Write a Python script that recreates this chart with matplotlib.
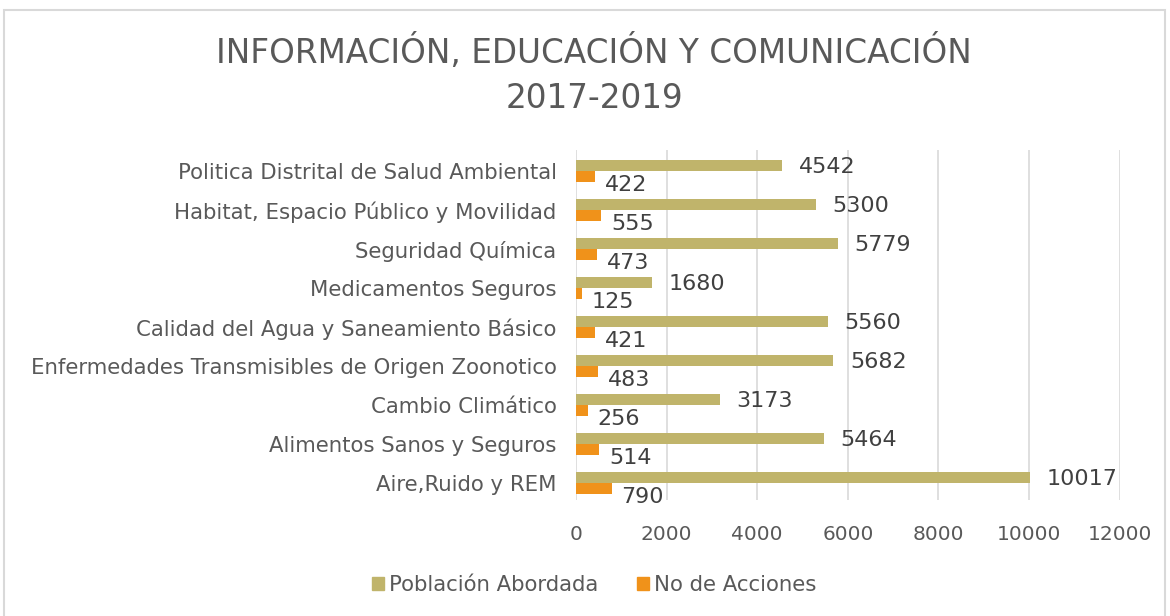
import numpy as np
import matplotlib.pyplot as plt
from matplotlib.patches import Rectangle

categorias = ['Politica Distrital de Salud Ambiental',
              'Habitat, Espacio Público y Movilidad',
              'Seguridad Química',
              'Medicamentos Seguros',
              'Calidad del Agua y Saneamiento Básico',
              'Enfermedades Transmisibles de Origen Zoonotico',
              'Cambio Climático',
              'Alimentos Sanos y Seguros',
              'Aire,Ruido y REM']
poblacion = [4542, 5300, 5779, 1680, 5560, 5682, 3173, 5464, 10017]
acciones = [422, 555, 473, 125, 421, 483, 256, 514, 790]
xticks = [0, 2000, 4000, 6000, 8000, 10000, 12000]

gold = '#c0b46b'
orange = '#f0921a'
gris = '#404040'

fig = plt.figure(figsize=(11.7, 6.16), dpi=100)
ax = fig.add_axes([0.4923, 0.188, 0.4647, 0.568])

n = len(categorias)
y = np.arange(n)[::-1]
h = 0.28
ax.barh(y + h/2, poblacion, height=h, color=gold, zorder=3)
ax.barh(y - h/2, acciones, height=h, color=orange, zorder=3)

for yi, p, a in zip(y, poblacion, acciones):
    ax.annotate(str(p), (p, yi + h/2), xytext=(12, -1), textcoords='offset points',
                va='center', ha='left', fontsize=16, color=gris)
    ax.annotate(str(a), (a, yi - h/2), xytext=(7, -6), textcoords='offset points',
                va='center', ha='left', fontsize=16, color=gris)

ax.set_xlim(0, 12000)
ax.set_ylim(-0.435, 8.54)
ax.set_xticks(xticks)
ax.set_xticklabels([str(t) for t in xticks], fontsize=14.5, color='#595959')
ax.set_yticks(y)
ax.set_yticklabels(categorias, fontsize=15.3, color='#595959')
ax.tick_params(length=0, pad=14)
ax.tick_params(axis='x', pad=18)
ax.grid(axis='x', color='#d9d9d9', lw=1.2, zorder=0)
for s in ax.spines.values():
    s.set_visible(False)

fig.text(0.508, 1 - 52/616, 'INFORMACIÓN, EDUCACIÓN Y COMUNICACIÓN',
         ha='center', va='center', fontsize=23.5, color='#595959')
fig.text(0.508, 1 - 98/616, '2017-2019',
         ha='center', va='center', fontsize=23.5, color='#595959')

# legend
fig.legend(handles=[Rectangle((0, 0), 1, 1, color=gold), Rectangle((0, 0), 1, 1, color=orange)],
           labels=['Población Abordada', 'No de Acciones'], loc='center',
           bbox_to_anchor=(0.508, 1 - 585/616), ncol=2, frameon=False, fontsize=15.3,
           handlelength=0.55, handleheight=0.55, handletextpad=0.25, columnspacing=1.8,
           labelcolor='#595959')

# outer chart border
fig.patches.append(Rectangle((0.0035, -0.01), 0.992, 0.994, transform=fig.transFigure,
                             fill=False, edgecolor='#d9d9d9', lw=1.5))

fig.savefig('out.png', dpi=100)
